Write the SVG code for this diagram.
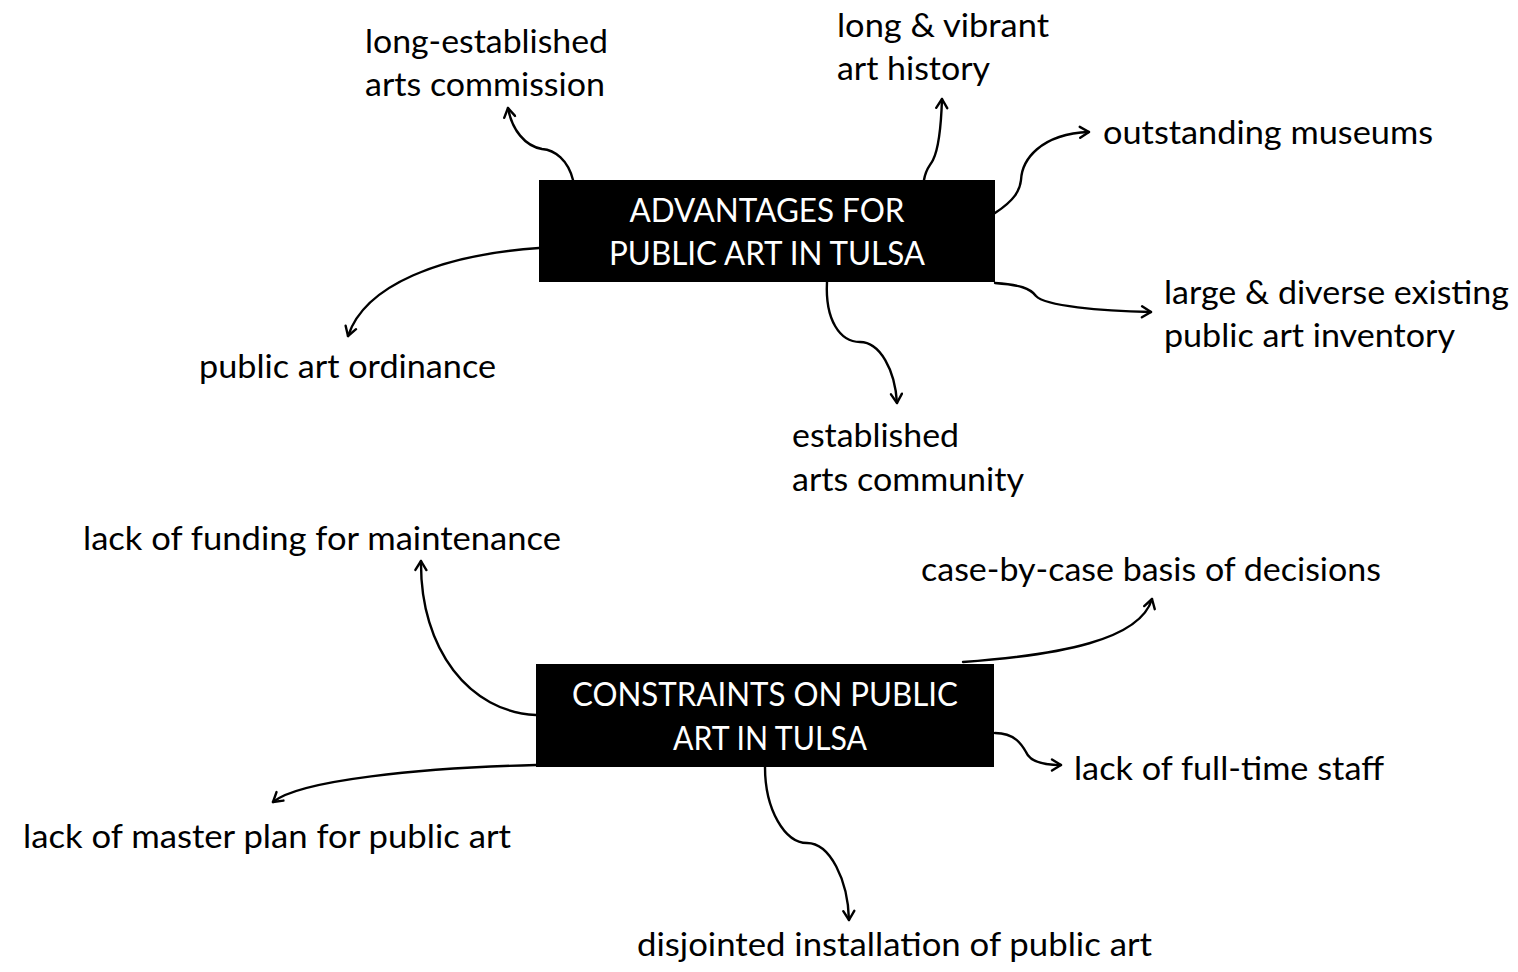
<svg xmlns="http://www.w3.org/2000/svg" width="1518" height="972" viewBox="0 0 1518 972">
  <style>
    .lbl { font-family: Lato, "Open Sans", "Liberation Sans", sans-serif; font-size: 33px; fill: #000; }
    .hd { font-family: Lato, "Open Sans", "Liberation Sans", sans-serif; font-size: 33px; fill: #fff; text-anchor: middle; }
    .box { fill: #000; }
    .conn path { fill: none; stroke: #000; stroke-width: 2.4; stroke-linecap: round; marker-end: url(#arrow); }
  </style>
  <defs>
    <marker id="arrow" viewBox="0 0 14 14" refX="12" refY="7" markerWidth="14" markerHeight="14" markerUnits="userSpaceOnUse" orient="auto">
      <path d="M3,1.5 L12,7 L3,12.5" fill="none" stroke="#000" stroke-width="2.4" stroke-linecap="round" stroke-linejoin="round"/>
    </marker>
  </defs>
  <rect width="1518" height="972" fill="#fff"/>

  <!-- central hubs -->
  <g id="advantages">
    <rect class="box" x="539" y="180" width="456" height="102"/>
    <text class="hd" x="767" y="222" textLength="275" lengthAdjust="spacingAndGlyphs">ADVANTAGES FOR</text>
    <text class="hd" x="767" y="265" textLength="316" lengthAdjust="spacingAndGlyphs">PUBLIC ART IN TULSA</text>
  </g>
  <g id="constraints">
    <rect class="box" x="536" y="664" width="458" height="103"/>
    <text class="hd" x="765" y="706" textLength="386" lengthAdjust="spacingAndGlyphs">CONSTRAINTS ON PUBLIC</text>
    <text class="hd" x="770" y="750" textLength="194" lengthAdjust="spacingAndGlyphs">ART IN TULSA</text>
  </g>

  <!-- advantage items -->
  <g id="arts-commission">
    <text class="lbl" x="365" y="53" textLength="243" lengthAdjust="spacingAndGlyphs">long-established</text>
    <text class="lbl" x="365" y="96" textLength="240" lengthAdjust="spacingAndGlyphs">arts commission</text>
  </g>
  <g id="art-history">
    <text class="lbl" x="837" y="37" textLength="212" lengthAdjust="spacingAndGlyphs">long &amp; vibrant</text>
    <text class="lbl" x="837" y="80" textLength="153" lengthAdjust="spacingAndGlyphs">art history</text>
  </g>
  <g id="museums">
    <text class="lbl" x="1103" y="144" textLength="330" lengthAdjust="spacingAndGlyphs">outstanding museums</text>
  </g>
  <g id="inventory">
    <text class="lbl" x="1164" y="304" textLength="345" lengthAdjust="spacingAndGlyphs">large &amp; diverse existing</text>
    <text class="lbl" x="1164" y="347" textLength="291" lengthAdjust="spacingAndGlyphs">public art inventory</text>
  </g>
  <g id="ordinance">
    <text class="lbl" x="199" y="378" textLength="297" lengthAdjust="spacingAndGlyphs">public art ordinance</text>
  </g>
  <g id="arts-community">
    <text class="lbl" x="792" y="447" textLength="167" lengthAdjust="spacingAndGlyphs">established</text>
    <text class="lbl" x="792" y="491" textLength="232" lengthAdjust="spacingAndGlyphs">arts community</text>
  </g>

  <!-- constraint items -->
  <g id="maintenance-funding">
    <text class="lbl" x="83" y="550" textLength="478" lengthAdjust="spacingAndGlyphs">lack of funding for maintenance</text>
  </g>
  <g id="case-by-case">
    <text class="lbl" x="921" y="581" textLength="460" lengthAdjust="spacingAndGlyphs">case-by-case basis of decisions</text>
  </g>
  <g id="staff">
    <text class="lbl" x="1074" y="780" textLength="310" lengthAdjust="spacingAndGlyphs">lack of full-time staff</text>
  </g>
  <g id="master-plan">
    <text class="lbl" x="23" y="848" textLength="488" lengthAdjust="spacingAndGlyphs">lack of master plan for public art</text>
  </g>
  <g id="installation">
    <text class="lbl" x="637" y="956" textLength="515" lengthAdjust="spacingAndGlyphs">disjointed installation of public art</text>
  </g>

  <!-- connectors -->
  <g id="connectors" class="conn">
    <path d="M573,180 C568,160 555,150 542,149 C525,146 512,130 508,108"/>
    <path d="M924,180 C926,168 930,166 933,160 C938,150 941,130 942,99"/>
    <path d="M995,213 C1015,200 1020,190 1021,180 C1022,160 1040,134 1089,132"/>
    <path d="M539,248 C440,255 365,285 348,336"/>
    <path d="M827,282 C825,320 840,342 860,342 C880,342 895,370 897,403"/>
    <path d="M995,283 C1020,285 1030,288 1036,296 C1045,306 1100,311 1151,312"/>
    <path d="M536,715 C470,712 420,650 421,561"/>
    <path d="M963,662 C1060,655 1140,640 1152,599"/>
    <path d="M995,733 C1015,733 1022,745 1026,752 C1030,762 1045,765 1061,765"/>
    <path d="M536,765 C420,768 300,780 273,802"/>
    <path d="M765,767 C765,810 785,843 807,843 C830,843 848,880 849,920"/>
  </g>
</svg>
